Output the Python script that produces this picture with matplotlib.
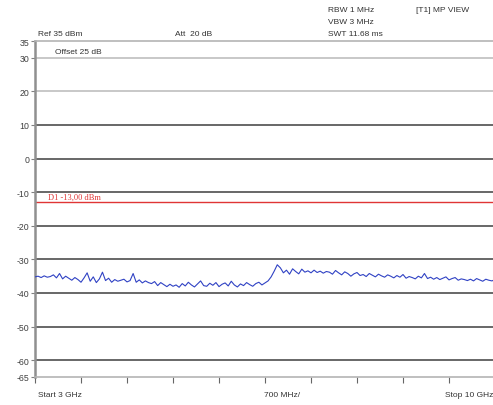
import numpy as np
import matplotlib
matplotlib.use("Agg")
import matplotlib.pyplot as plt

plt.rcParams['font.family'] = ['Liberation Sans', 'DejaVu Sans']

f_start, f_stop = 3.0, 10.0  # GHz
y_ticks = [35, 30, 20, 10, 0, -10, -20, -30, -40, -50, -60, -65]
limit_dbm = -13.0

trace_seg1 = [-35.2,-35.0,-35.4,-34.9,-35.3,-35.1,-34.6,-35.5,-34.2,-35.8,-35.0,-35.6,-36.2,-35.4,-36.0,-36.8,
              -35.5,-34.0,-36.5,-35.2,-36.9,-35.8,-33.8,-36.3,-35.6,-36.8,-36.0,-36.5,-36.2,-35.9,-36.7,-36.3,
              -34.2,-36.8,-36.1,-37.0,-36.4,-36.9]
trace_seg2 = [-37.2,-36.6,-37.8,-36.9,-37.5,-38.1,-37.4,-38.0,-37.6,-38.3,-37.2,-37.9,-36.8,-37.6,-38.2,-37.3,
              -36.4,-37.8,-38.0,-37.1,-37.7,-36.9,-38.1,-37.4,-37.0,-37.9,-36.5,-37.6,-38.2,-37.3,-37.8,-36.9,
              -37.5,-38.0,-37.2,-36.8,-37.6,-37.0]
trace_seg3 = [-36.4,-35.2,-33.5,-31.6,-32.5,-34.0,-33.2,-34.4,-32.8,-33.6,-34.3,-32.9,-33.8,-33.4,-34.0]
trace_seg4 = [-33.2,-33.9,-33.5,-34.1,-33.6,-33.8,-34.4,-33.3,-34.0,-34.6,-33.7,-34.2,-35.0,-34.3,-33.9,-34.8,
              -34.5,-35.1,-34.2,-34.7,-35.2,-34.4,-34.9,-35.3,-34.6,-35.0,-35.5,-34.8,-35.3,-34.5,-35.6,-35.1,
              -35.4,-35.8,-35.0,-35.5,-34.2,-35.7,-35.3,-35.9,-35.4,-36.0,-35.6,-35.2,-36.1,-35.7,-35.4,-36.2,
              -35.8,-36.0,-36.3,-35.9,-36.4,-35.7,-36.1,-36.5,-35.9,-36.2,-36.4,-36.0]
trace = trace_seg1 + trace_seg2 + trace_seg3 + trace_seg4
freq = np.linspace(f_start, f_stop, len(trace))

W, H = 493, 406
fig = plt.figure(figsize=(W/100, H/100), dpi=100)
x0, x1 = 35, 495
y0, y1 = 42, 378
ax = fig.add_axes([x0/W, (H-y1)/H, (x1-x0)/W, (y1-y0)/H])
ax.set_xlim(f_start, f_stop)
ax.set_ylim(-65, 35)

for v in y_ticks:
    if v in (35, -65):
        continue
    col = '#c4c4c4' if v >= 20 else '#5c5c5c'
    ax.axhline(v, color=col, lw=1.3, zorder=1)

ax.axhline(limit_dbm, color='#e03535', lw=1.0, zorder=2)
ax.plot(freq, trace, color='#3042c4', lw=0.8, zorder=3)

ax.spines['right'].set_visible(False)
ax.spines['left'].set_color('#909090')
ax.spines['left'].set_linewidth(1.8)
ax.spines['top'].set_color('#b4b4b4')
ax.spines['top'].set_linewidth(1.2)
ax.spines['bottom'].set_color('#b4b4b4')
ax.spines['bottom'].set_linewidth(1.2)

ax.set_yticks(y_ticks)
ax.set_yticklabels([str(v) for v in y_ticks])
ax.set_xticks(np.linspace(f_start, f_stop, 11))
ax.set_xticklabels([])
ax.tick_params(axis='y', labelsize=6.3, colors='#808080', labelcolor='#404040', length=3, width=0.8, pad=1)
ax.tick_params(axis='x', colors='#666666', length=4, width=0.8, direction='out')

def t(x, y, s, **kw):
    fig.text(x/W, 1 - y/H, s, fontsize=6, color='#333333', va='center', ha=kw.pop('ha', 'left'), **kw)

t(38, 34, 'Ref 35 dBm')
t(175, 34, 'Att  20 dB')
t(328, 10, 'RBW 1 MHz')
t(328, 22, 'VBW 3 MHz')
t(328, 34, 'SWT 11.68 ms')
t(416, 10, '[T1] MP VIEW')
t(55, 52, 'Offset 25 dB')
t(38, 396, 'Start 3 GHz')
t(264, 396, '700 MHz/')
t(493, 396, 'Stop 10 GHz', ha='right')
fig.text(48/W, 1 - 198/H, 'D1 -13,00 dBm', fontsize=6, color='#e03535', va='center',
         family='Liberation Serif')

fig.savefig('out.png', dpi=100)
